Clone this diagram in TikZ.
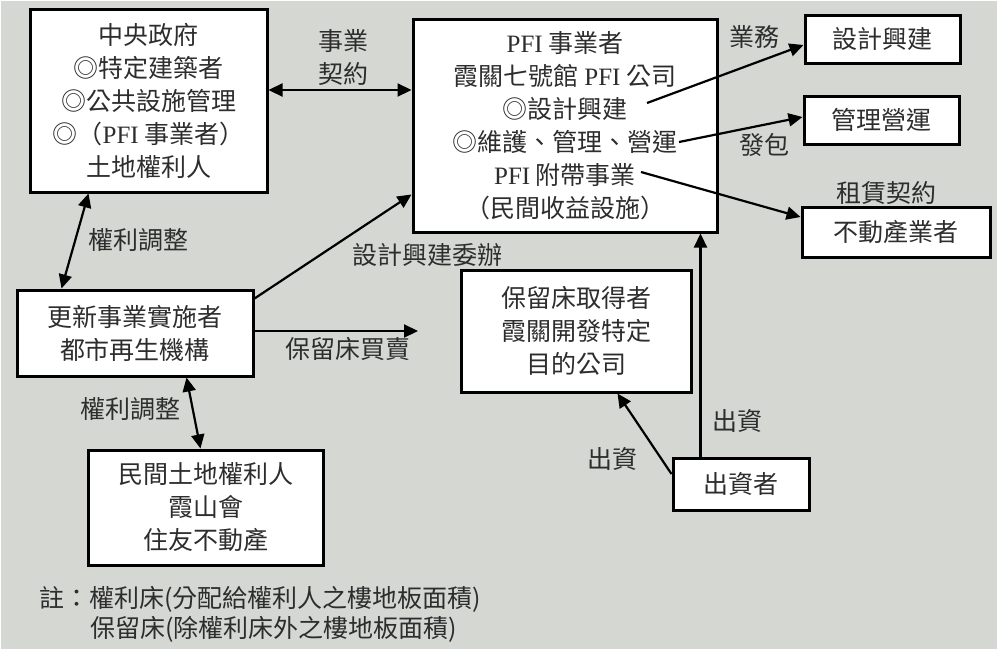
\documentclass[tikz,border=0pt]{standalone}
\usepackage{fontspec}
\setmainfont{Noto Sans CJK TC}
\newfontfamily\latserif{Liberation Serif}
\usetikzlibrary{arrows.meta,calc}
\definecolor{bgc}{RGB}{213,215,211}
\definecolor{txt}{RGB}{45,45,45}
\begin{document}
\begin{tikzpicture}[x=1pt,y=-1pt,
  box/.style={draw=black,line width=3pt,fill=white,inner sep=0pt,align=center,text=txt,font=\fontsize{25}{33}\selectfont},
  lbl/.style={inner sep=0pt,align=center,text=txt,font=\fontsize{25}{33}\selectfont},
  tip/.style={},
  conn/.style={line width=2.2pt,-{Triangle[length=14pt,width=13pt]}},
  dconn/.style={line width=2.2pt,{Triangle[length=14pt,width=13pt]}-{Triangle[length=14pt,width=13pt]}}]
\useasboundingbox (0,0) rectangle (999,651);
\fill[white] (0,0) rectangle (999,651);
\fill[bgc] (1,1) rectangle (997,649);

% boxes
\node[box,minimum width=237pt,minimum height=183pt] (gov) at (148.5,100.5)
  {中央政府\\◎特定建築者\\◎公共設施管理\\◎（{\latserif PFI} 事業者）\\土地權利人};
\node[box,minimum width=304pt,minimum height=213pt] (pfi) at (565,125.5)
  {{\latserif PFI} 事業者\\霞關七號館 {\latserif PFI} 公司\\◎設計興建\\◎維護、管理、營運\\{\latserif PFI} 附帶事業\\（民間收益設施）};
\node[box,minimum width=155pt,minimum height=48pt] (design) at (882.5,39) {設計興建};
\node[box,minimum width=155pt,minimum height=48pt] (manage) at (881.5,120) {管理營運};
\node[box,minimum width=188pt,minimum height=50pt] (realty) at (896,232) {不動產業者};
\node[box,minimum width=236pt,minimum height=86pt] (renew) at (135,333) {更新事業實施者\\都市再生機構};
\node[box,minimum width=235pt,minimum height=115pt] (private) at (205.5,507.5) {民間土地權利人\\霞山會\\住友不動產};
\node[box,minimum width=230pt,minimum height=122pt] (reserve) at (576,331) {保留床取得者\\霞關開發特定\\目的公司};
\node[box,minimum width=136pt,minimum height=52pt] (investor) at (741,484) {出資者};

% helper coordinates
\coordinate (g1) at ($(gov.east)+(0,-10.5)$);
\coordinate (p1) at (647,103);
\coordinate (p2) at (679,142);
\coordinate (p3) at (641,172);
\coordinate (t1) at (418,331);
\coordinate (i1) at ($(investor.north west)+(29,0)$);

% connectors
\draw[dconn] (g1) -- (g1 -| pfi.west);
\draw[dconn] ($(gov.south west)+(60,0)$) -- ($(renew.north west)+(46,0)$);
\draw[conn] ($(renew.north east)+(0,10)$) -- ($(pfi.south west)+(0,-39)$);
\draw[conn] ($(renew.east)+(0,-2)$) -- (t1);
\draw[dconn] ($(renew.south west)+(171,0)$) -- ($(private.north west)+(114,0)$);
\draw[conn] (p1) -- ($(design.west)+(0,6)$);
\draw[conn] (p2) -- ($(manage.west)+(0,-3)$);
\draw[conn] (p3) -- ($(realty.west)+(0,-15)$);
\draw[conn] (i1) -- (i1 |- pfi.south);
\draw[conn] ($(investor.west)+(0,-10)$) -- ($(reserve.south west)+(158,0)$);

% labels
\node[lbl] (lcontract) at (343,57) {事業\\契約};
\node[lbl] (ladj1) at (138,240) {權利調整};
\node[lbl] (ldesign) at (427,255) {設計興建委辦};
\node[lbl] (lsale) at (348,349) {保留床買賣};
\node[lbl] (ladj2) at (130,409) {權利調整};
\node[lbl] (lbiz) at (754,37) {業務};
\node[lbl] (lsub) at (764,145) {發包};
\node[lbl] (llease) at (886,193) {租賃契約};
\node[lbl] (linv1) at (737,421) {出資};
\node[lbl] (linv2) at (612,459) {出資};
\node[lbl,anchor=west] (note1) at (39,599) {註：權利床(分配給權利人之樓地板面積)};
\node[lbl,anchor=west] (note2) at (90,629) {保留床(除權利床外之樓地板面積)};
\end{tikzpicture}
\end{document}
